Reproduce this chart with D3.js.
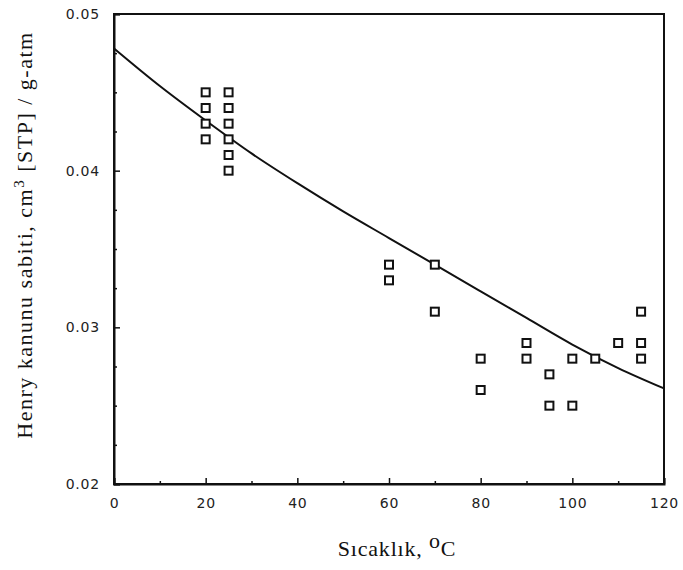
<!DOCTYPE html>
<html>
<head>
<meta charset="utf-8">
<script src="https://cdn.jsdelivr.net/npm/d3@7"></script>
<style>
  body { margin: 0; background: #fff; }
  .tick text { font-family: "DejaVu Sans", sans-serif; font-size: 14px; fill: #222; letter-spacing: 0.8px; }
  .title { font-family: "Liberation Serif", serif; font-size: 22px; fill: #111; }
</style>
</head>
<body>
<div id="graph"></div>
<script>
// measured points (temperature, Henry constant)
const tempC = [20, 20, 20, 20, 25, 25, 25, 25, 25, 25, 60, 60, 70, 70, 80, 80, 90, 90, 95, 95, 100, 100, 105, 110, 115, 115, 115];
const henryK = [0.045, 0.044, 0.043, 0.042, 0.045, 0.044, 0.043, 0.042, 0.041, 0.040,
                0.034, 0.033, 0.034, 0.031, 0.028, 0.026, 0.029, 0.028, 0.027, 0.025,
                0.028, 0.025, 0.028, 0.029, 0.031, 0.029, 0.028];

// fitted curve
const fitTemp = [0, 10, 20, 30, 40, 50, 60, 70, 80, 90, 100, 110, 120];
const fitK = [0.0478, 0.0454, 0.0432, 0.0411, 0.0392, 0.0374, 0.0357, 0.0340, 0.0323, 0.0306, 0.0289, 0.0274, 0.0261];

const xTicks = [0, 20, 40, 60, 80, 100, 120];
const xMinor = [10, 30, 50, 70, 90, 110];
const yTicks = [0.02, 0.03, 0.04, 0.05];
const yMinor = [0.0225, 0.025, 0.0275, 0.0325, 0.035, 0.0375, 0.0425, 0.045, 0.0475];

const w = 683, h = 570;
const margin = { top: 14, right: 19, bottom: 86, left: 114 };
const innerWidth = w - margin.left - margin.right;
const innerHeight = h - margin.top - margin.bottom;

const svg = d3.select("#graph").append("svg")
    .attr("width", w)
    .attr("height", h);

const g = svg.append("g")
    .attr("transform", `translate(${margin.left},${margin.top})`);

const xScale = d3.scaleLinear().domain([0, 120]).range([0, innerWidth]);
const yScale = d3.scaleLinear().domain([0.02, 0.05]).range([innerHeight, 0]);

// frame
g.append("rect")
    .attr("width", innerWidth)
    .attr("height", innerHeight)
    .attr("fill", "none")
    .attr("stroke", "#111")
    .attr("stroke-width", 2);

// major ticks, drawn inward
const xAxis = d3.axisBottom(xScale).tickValues(xTicks).tickSize(-6).tickPadding(14)
    .tickFormat(d3.format("d"));
const xAxisG = g.append("g")
    .attr("transform", `translate(0,${innerHeight})`)
    .call(xAxis);

const yAxis = d3.axisLeft(yScale).tickValues(yTicks).tickSize(-6).tickPadding(14)
    .tickFormat(d3.format(".2f"));
const yAxisG = g.append("g").call(yAxis);

[xAxisG, yAxisG].forEach(a => {
    a.select(".domain").attr("stroke", "#111").attr("stroke-width", 2);
    a.selectAll(".tick line").attr("stroke", "#111").attr("stroke-width", 1.5);
});

// minor ticks
g.append("g")
    .attr("transform", `translate(0,${innerHeight})`)
    .call(d3.axisBottom(xScale).tickValues(xMinor).tickSize(-3).tickFormat(""))
    .call(a => a.select(".domain").remove())
    .selectAll("line").attr("stroke", "#111").attr("stroke-width", 1.5);

g.append("g")
    .call(d3.axisLeft(yScale).tickValues(yMinor).tickSize(-3).tickFormat(""))
    .call(a => a.select(".domain").remove())
    .selectAll("line").attr("stroke", "#111").attr("stroke-width", 1.5);

// fitted line
const lineGenerator = d3.line()
    .x(d => xScale(d[0]))
    .y(d => yScale(d[1]))
    .curve(d3.curveMonotoneX);
g.append("path")
    .attr("d", lineGenerator(fitTemp.map((t, i) => [t, fitK[i]])))
    .attr("fill", "none")
    .attr("stroke", "#111")
    .attr("stroke-width", 2);

// square markers
const s = 8;
g.selectAll("rect.pt")
    .data(tempC.map((t, i) => ({ t: t, k: henryK[i] })))
    .enter()
    .append("rect")
    .attr("class", "pt")
    .attr("x", d => xScale(d.t) - s / 2)
    .attr("y", d => yScale(d.k) - s / 2)
    .attr("width", s)
    .attr("height", s)
    .attr("fill", "#fff")
    .attr("stroke", "#111")
    .attr("stroke-width", 2);

// axis titles
const xt = svg.append("text")
    .attr("class", "title")
    .attr("x", 397)
    .attr("y", 556)
    .attr("text-anchor", "middle")
    .attr("letter-spacing", "0.8px");
xt.append("tspan").text("Sıcaklık,  ");
xt.append("tspan").attr("dy", -8).text("o");
xt.append("tspan").attr("dy", 8).text("C");

const yt = svg.append("text")
    .attr("class", "title")
    .attr("transform", "translate(32,235) rotate(-90)")
    .attr("text-anchor", "middle")
    .attr("letter-spacing", "1.5px");
yt.append("tspan").text("Henry kanunu sabiti, cm");
yt.append("tspan").attr("dy", -8).attr("font-size", "15px").text("3");
yt.append("tspan").attr("dy", 8).text(" [STP] / g-atm");
</script>
</body>
</html>
